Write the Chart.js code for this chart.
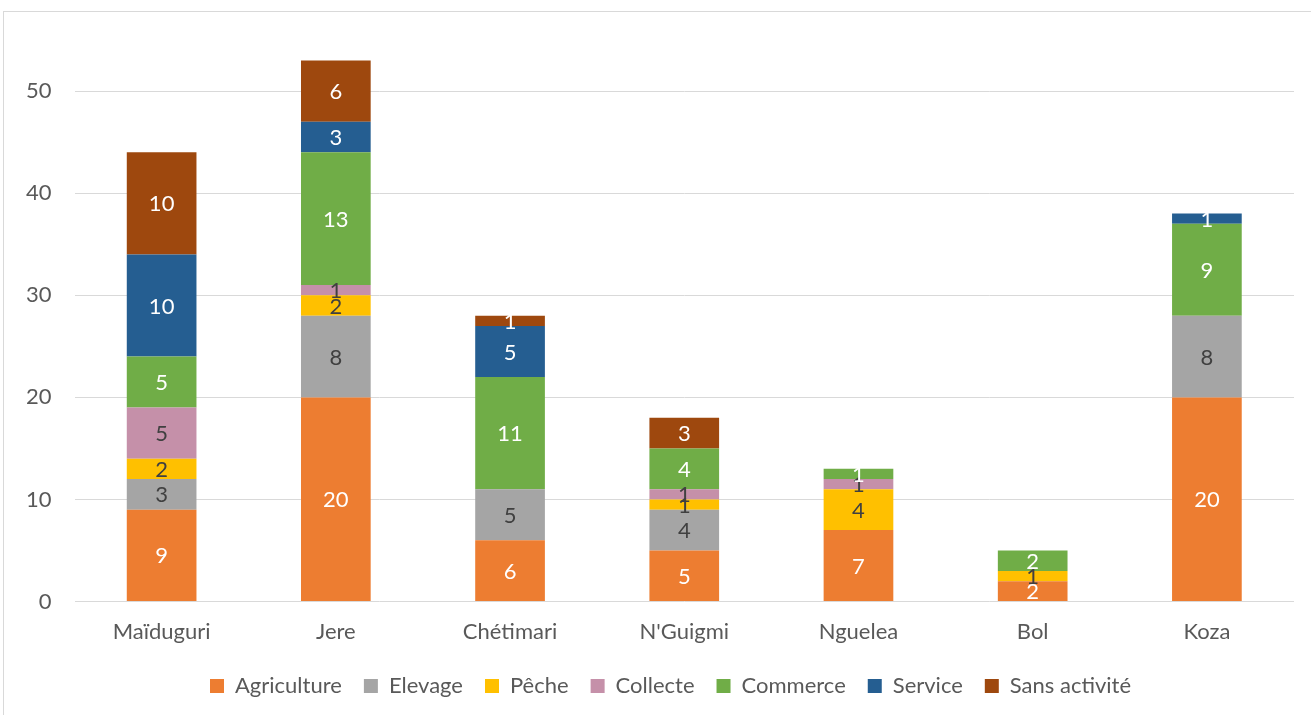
<!DOCTYPE html>
<html>
<head>
<meta charset="utf-8">
<script src="https://cdn.jsdelivr.net/npm/chart.js@4/dist/chart.umd.min.js"></script>
<style>
  html, body { margin: 0; padding: 0; background: #fff; overflow: hidden; }
  #cadre { position: absolute; left: 3px; top: 11px; width: 1330px; height: 720px; border: 1px solid #d9d9d9; }
  #zone { position: absolute; left: 0; top: 0; width: 1311px; height: 715px; }
</style>
</head>
<body>
<div id="cadre"></div>
<div id="zone"><canvas id="graphe"></canvas></div>
<script>
// Données
const localites = ["Maïduguri", "Jere", "Chétimari", "N'Guigmi", "Nguelea", "Bol", "Koza"];
const agriculture  = [9, 20, 6, 5, 7, 2, 20];
const elevage      = [3, 8, 5, 4, null, null, 8];
const peche        = [2, 2, null, 1, 4, 1, null];
const collecte     = [5, 1, null, 1, 1, null, null];
const commerce     = [5, 13, 11, 4, 1, 2, 9];
const service      = [10, 3, 5, null, null, null, 1];
const sansActivite = [10, 6, 1, 3, null, null, null];
const graduations  = [0, 10, 20, 30, 40, 50];

const police = "Lato, 'Open Sans', sans-serif";
const taille = 22;

// étiquettes de valeurs au centre de chaque segment
const etiquettes = {
    id: 'etiquettes',
    afterDatasetsDraw(chart) {
        const ctx = chart.ctx;
        ctx.save();
        ctx.font = taille + "px " + police;
        ctx.textAlign = "center";
        ctx.textBaseline = "middle";
        chart.data.datasets.forEach((ds, i) => {
            const meta = chart.getDatasetMeta(i);
            if (meta.hidden) return;
            meta.data.forEach((bar, j) => {
                const v = ds.data[j];
                if (v == null) return;
                ctx.fillStyle = ds.couleurTexte;
                ctx.fillText(String(v), bar.x, (bar.y + bar.base) / 2 + 1);
            });
        });
        ctx.restore();
    }
};

// la légende est un peu décalée vers la droite dans l'original
const decalageLegende = {
    id: 'decalageLegende',
    afterLayout(chart) {
        chart.legend.left += 22;
        chart.legend.right += 22;
    }
};

function serie(nom, valeurs, couleur, texte) {
    return {
        label: nom,
        data: valeurs,
        backgroundColor: couleur,
        borderWidth: 0,
        couleurTexte: texte,
        categoryPercentage: 1,
        barPercentage: 0.4
    };
}

new Chart(document.getElementById('graphe'), {
    type: 'bar',
    data: {
        labels: localites,
        datasets: [
            serie("Agriculture", agriculture, "#ED7D31", "#ffffff"),
            serie("Elevage", elevage, "#A5A5A5", "#404040"),
            serie("Pêche", peche, "#FFC000", "#404040"),
            serie("Collecte", collecte, "#C590A9", "#404040"),
            serie("Commerce", commerce, "#70AD47", "#ffffff"),
            serie("Service", service, "#255E91", "#ffffff"),
            serie("Sans activité", sansActivite, "#9E480E", "#ffffff")
        ]
    },
    options: {
        responsive: true,
        maintainAspectRatio: false,
        animation: false,
        layout: { padding: { left: 3, right: 17, top: 40, bottom: 8 } },
        plugins: {
            legend: {
                position: 'bottom',
                labels: {
                    font: { size: taille, family: police },
                    color: '#595959',
                    boxWidth: 14,
                    boxHeight: 14,
                    padding: 22
                }
            },
            tooltip: { enabled: false }
        },
        scales: {
            x: {
                stacked: true,
                grid: { display: false },
                border: { display: false },
                ticks: { font: { size: taille, family: police }, color: '#595959', padding: 9 },
                afterFit: axe => { axe.height -= 1; }
            },
            y: {
                stacked: true,
                min: 0,
                max: 55,
                afterBuildTicks: axe => { axe.ticks = graduations.map(v => ({ value: v })); },
                grid: { color: '#d9d9d9', lineWidth: 1, drawTicks: false },
                border: { display: false },
                ticks: { font: { size: taille, family: police }, color: '#595959', padding: 23 }
            }
        }
    },
    plugins: [etiquettes, decalageLegende]
});
</script>
</body>
</html>
